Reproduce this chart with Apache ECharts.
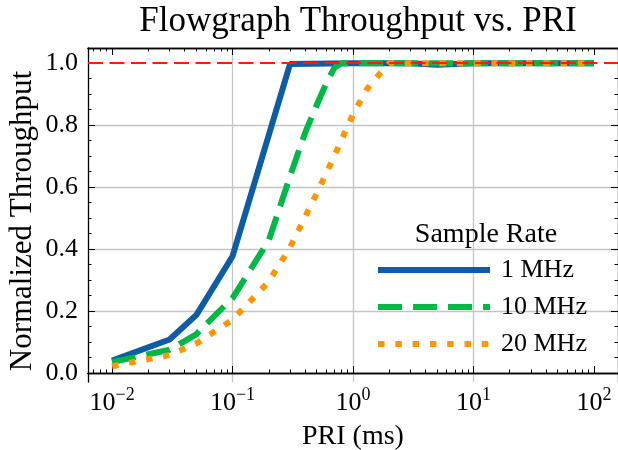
<!DOCTYPE html>
<html>
<head>
<meta charset="utf-8">
<script src="https://cdn.jsdelivr.net/npm/echarts@6/dist/echarts.min.js"></script>
<style>
  html, body { margin: 0; padding: 0; background: #fff; }
  #chart { width: 618px; height: 450px; }
</style>
</head>
<body>
<div id="chart"></div>
<script>
// PRI (ms) vs normalized throughput, one list per sample rate
const seriesNames = ["1 MHz", "10 MHz", "20 MHz"];
const rate1MHz = [[0.01, 0.04], [0.03, 0.108], [0.05, 0.187], [0.1, 0.377], [0.3, 0.997],
  [1, 1.0], [3, 1.0], [5, 0.995], [10, 1.0], [100, 1.0]];
const rate10MHz = [[0.01, 0.035], [0.03, 0.075], [0.05, 0.125], [0.1, 0.242], [0.2, 0.428],
  [0.3, 0.635], [0.4, 0.775], [0.5, 0.865], [0.6, 0.935], [0.7, 0.985], [0.8, 1.0],
  [1, 1.0], [10, 1.0], [100, 1.0]];
const rate20MHz = [[0.01, 0.022], [0.03, 0.058], [0.05, 0.095], [0.1, 0.172], [0.2, 0.295],
  [0.3, 0.405], [0.5, 0.58], [0.7, 0.70], [1, 0.835], [1.3, 0.915], [1.7, 0.97], [2, 1.0],
  [10, 1.0], [100, 1.0]];
const refLevel = 1.0;

const xMajorTicks = [0.01, 0.1, 1, 10, 100];
const yTicks = [0, 0.2, 0.4, 0.6, 0.8, 1.0];

const FONT = "Liberation Serif";
const xMin = Math.pow(10, -2.2);
const xMax = Math.pow(10, 2.2);
const yMin = -0.029;
const yMax = 1.049;

// minor ticks at 2..9 x 10^k
const xMinorTicks = [];
for (let e = -3; e <= 2; e++) {
  for (let m = 2; m <= 9; m++) {
    const v = m * Math.pow(10, e);
    if (v > xMin && v < xMax) xMinorTicks.push(v);
  }
}

const chart = echarts.init(document.getElementById("chart"));

function logAxis(position, ticks, len, withLabels, withSplit) {
  return {
    type: "log",
    min: xMin,
    max: xMax,
    position: position,
    axisLine: { show: true, lineStyle: { color: "#000", width: 1.3 } },
    axisTick: { show: true, inside: true, length: len, customValues: ticks,
      lineStyle: { color: "#000", width: 1 } },
    axisLabel: {
      show: !!withLabels,
      customValues: xMajorTicks,
      margin: 4,
      formatter: (v) => {
        const e = Math.round(Math.log10(v));
        return "{b|10}{s|" + (e < 0 ? "\u2212" + (-e) : e) + "}";
      },
      rich: {
        b: { fontFamily: FONT, fontSize: 26, color: "#000", lineHeight: 30, verticalAlign: "bottom" },
        s: { fontFamily: FONT, fontSize: 18, color: "#000", lineHeight: 18, verticalAlign: "top" },
      },
    },
    splitLine: { show: !!withSplit, showMinLine: false, showMaxLine: false,
      lineStyle: { color: "#c4c4c4", width: 1.3 } },
  };
}

function valAxis(position, withLabels) {
  return {
    type: "value",
    min: yMin,
    max: yMax,
    position: position,
    axisLine: { show: true, lineStyle: { color: "#000", width: 1.3 } },
    axisTick: { show: true, inside: true, length: 7, customValues: yTicks,
      lineStyle: { color: "#000", width: 1 } },
    minorTick: { show: true, splitNumber: 4, length: 3.5, lineStyle: { color: "#000", width: 1 } },
    axisLabel: {
      show: withLabels,
      customValues: yTicks,
      margin: 10,
      fontFamily: FONT,
      fontSize: 26,
      color: "#000",
      formatter: (v) => v.toFixed(1),
    },
    splitLine: { show: withLabels, showMinLine: false, showMaxLine: false,
      lineStyle: { color: "#c4c4c4", width: 1.3 } },
  };
}

chart.setOption({
  animation: false,
  backgroundColor: "#fff",
  title: [
    {
      text: "Flowgraph Throughput vs. PRI",
      left: 353,
      top: -1,
      textAlign: "center",
      textStyle: { fontFamily: FONT, fontSize: 35, fontWeight: "normal", color: "#000" },
    },
    {
      text: "Sample Rate",
      left: 481,
      top: 216,
      textAlign: "center",
      textStyle: { fontFamily: FONT, fontSize: 28, fontWeight: "normal", color: "#000" },
    },
  ],
  legend: {
    orient: "vertical",
    left: 375,
    top: 257,
    padding: 0,
    itemWidth: 112,
    itemHeight: 14,
    itemGap: 11,
    data: seriesNames,
    lineStyle: { width: 6 },
    itemStyle: { opacity: 0 },
    textStyle: { fontFamily: FONT, fontSize: 26, color: "#000", lineHeight: 26, padding: [0, 0, 0, 6] },
  },
  grid: { left: 88, right: 0, top: 48, bottom: 68, outerBoundsMode: "none" },
  xAxis: [
    Object.assign(logAxis("bottom", xMajorTicks, 7, true, true), {
      name: "PRI (ms)",
      nameLocation: "middle",
      nameGap: 41,
      nameMoveOverlap: false,
      nameTextStyle: { fontFamily: FONT, fontSize: 28, color: "#000" },
    }),
    logAxis("bottom", xMinorTicks, 3.5, false, false),
    logAxis("top", xMajorTicks, 7, false, false),
    logAxis("top", xMinorTicks, 3.5, false, false),
  ],
  yAxis: [
    Object.assign(valAxis("left", true), {
      name: "Normalized Throughput",
      nameLocation: "middle",
      nameGap: 50,
      nameMoveOverlap: false,
      nameTextStyle: { fontFamily: FONT, fontSize: 31, color: "#000", padding: [0, 12, 0, 0] },
    }),
    valAxis("right", false),
  ],
  series: [
    {
      name: seriesNames[0],
      type: "line",
      data: rate1MHz,
      showSymbol: false,
      symbol: "none",
      lineStyle: { color: "#0C5DA5", width: 6 },
      itemStyle: { color: "#0C5DA5" },
      z: 2,
    },
    {
      name: seriesNames[1],
      type: "line",
      data: rate10MHz,
      showSymbol: false,
      symbol: "none",
      lineStyle: { color: "#00B945", width: 6, type: [24, 11], cap: "butt" },
      itemStyle: { color: "#00B945" },
      z: 3,
    },
    {
      name: seriesNames[2],
      type: "line",
      data: rate20MHz,
      showSymbol: false,
      symbol: "none",
      lineStyle: { color: "#FF9500", width: 6, type: [6.5, 10.8], cap: "butt" },
      itemStyle: { color: "#FF9500" },
      z: 4,
      markLine: {
        silent: true,
        symbol: ["none", "none"],
        label: { show: false },
        lineStyle: { color: "#ff1a00", width: 2, type: [15, 6.5] },
        data: [{ yAxis: refLevel }],
      },
    },
  ],
});
</script>
</body>
</html>
